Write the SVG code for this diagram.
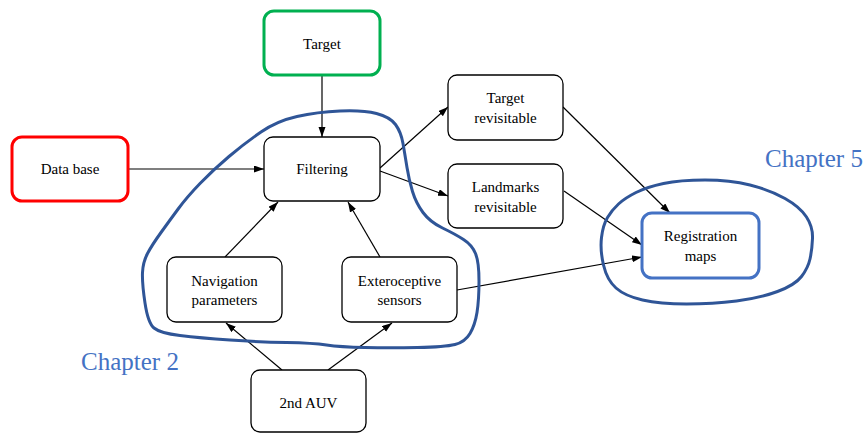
<svg xmlns="http://www.w3.org/2000/svg" width="867" height="434" viewBox="0 0 867 434">
<style>
.box{fill:#fff;stroke:#000;stroke-width:1.3}
.t{font-family:'Liberation Serif','DejaVu Serif',serif;font-size:15px;fill:#000;text-anchor:middle}
.ch{font-family:'Liberation Serif','DejaVu Serif',serif;font-size:25px;fill:#4472C4}
.c line{stroke:#000;stroke-width:1.2;marker-end:url(#ah)}
.loop{fill:none;stroke:#2F5597;stroke-width:3;stroke-linejoin:round}
</style>
<defs>
<marker id="ah" markerUnits="userSpaceOnUse" markerWidth="11" markerHeight="8" refX="10" refY="3.5" orient="auto">
<path d="M0,0 L10,3.5 L0,7 z" fill="#000"/>
</marker>
</defs>
<rect width="867" height="434" fill="#fff"/>
<g class="c" id="connectors">
<line x1="322" y1="76" x2="322" y2="137"/>
<line x1="128" y1="169" x2="264" y2="169"/>
<line x1="380" y1="168" x2="448" y2="107"/>
<line x1="380" y1="171" x2="448" y2="196"/>
<line x1="563" y1="107" x2="670" y2="213"/>
<line x1="564" y1="191" x2="642" y2="245"/>
<line x1="457" y1="290" x2="642" y2="257"/>
<line x1="225" y1="257" x2="278" y2="202"/>
<line x1="380" y1="257" x2="348" y2="202"/>
<line x1="282" y1="370" x2="226" y2="323"/>
<line x1="328" y1="370" x2="392" y2="323"/>
</g>
<g id="target"><rect x="264" y="11" width="116" height="64" rx="10" fill="#fff" stroke="#00B050" stroke-width="3"/><text class="t" x="322" y="49">Target</text></g>
<g id="database"><rect x="12" y="137" width="116" height="64" rx="10" fill="#fff" stroke="#FF0000" stroke-width="3"/><text class="t" x="70" y="174">Data base</text></g>
<g id="filtering"><rect class="box" x="264" y="137" width="116" height="64" rx="9"/><text class="t" x="322" y="174">Filtering</text></g>
<g id="target-revisitable"><rect class="box" x="448" y="75" width="115" height="65" rx="9"/><text class="t" x="505.5" y="103">Target</text><text class="t" x="505.5" y="123">revisitable</text></g>
<g id="landmarks-revisitable"><rect class="box" x="448" y="164" width="115" height="64" rx="9"/><text class="t" x="505.5" y="192">Landmarks</text><text class="t" x="505.5" y="212">revisitable</text></g>
<g id="registration-maps"><rect x="642" y="213" width="117" height="65" rx="10" fill="#fff" stroke="#4472C4" stroke-width="3"/><text class="t" x="700.5" y="241">Registration</text><text class="t" x="700.5" y="261">maps</text></g>
<g id="navigation"><rect class="box" x="167" y="257" width="115" height="65" rx="9"/><text class="t" x="224.5" y="286">Navigation</text><text class="t" x="224.5" y="305">parameters</text></g>
<g id="exteroceptive"><rect class="box" x="342" y="257" width="115" height="65" rx="9"/><text class="t" x="399.5" y="286">Exteroceptive</text><text class="t" x="399.5" y="305">sensors</text></g>
<g id="auv2"><rect class="box" x="251" y="370" width="115" height="62" rx="9"/><text class="t" x="308.5" y="408">2nd AUV</text></g>
<g id="chapter2-loop"><path class="loop" d="M 142.5,272.5 Q 143,262 147.5,253.5 Q 152,245 161,232.5 Q 170,220 178.5,208.5 Q 187,197 200,183.5 Q 213,170 229,156.5 Q 245,143 261,132 Q 277,121 297,116.5 Q 317,112 340,111 Q 363,110 376.5,113.5 Q 390,117 395.5,124.5 Q 401,132 403,143.5 Q 405,155 407,167.5 Q 409,180 412.5,191.5 Q 416,203 423,212.5 Q 430,222 442.5,228 Q 455,234 463.5,239.5 Q 472,245 475.5,253.5 Q 479,262 479,281 Q 479,300 477,312.5 Q 475,325 470,333.5 Q 465,342 455,344.5 Q 445,347 417.5,347.5 Q 390,348 365,347.5 Q 340,347 326.5,345 Q 313,343 286.5,342.5 Q 260,342 230,340 Q 200,338 180,335.5 Q 160,333 154,328 Q 148,323 145,303 Q 142,283 142.5,272.5 Z"/><text class="ch" x="81" y="370">Chapter 2</text></g>
<g id="chapter5-loop"><path class="loop" d="M 601.5,237.5 Q 603,225 607.5,217.5 Q 612,210 618.5,204 Q 625,198 636,192.5 Q 647,187 663.5,183.5 Q 680,180 705,180 Q 730,180 750,185 Q 770,190 785,198.5 Q 800,207 806.5,217 Q 813,227 812.5,238.5 Q 812,250 810,259 Q 808,268 801.5,276.5 Q 795,285 777.5,291.5 Q 760,298 736.5,301 Q 713,304 686.5,304 Q 660,304 642.5,300 Q 625,296 616,288 Q 607,280 603.5,265 Q 600,250 601.5,237.5 Z"/><text class="ch" x="765" y="167">Chapter 5</text></g>
</svg>
